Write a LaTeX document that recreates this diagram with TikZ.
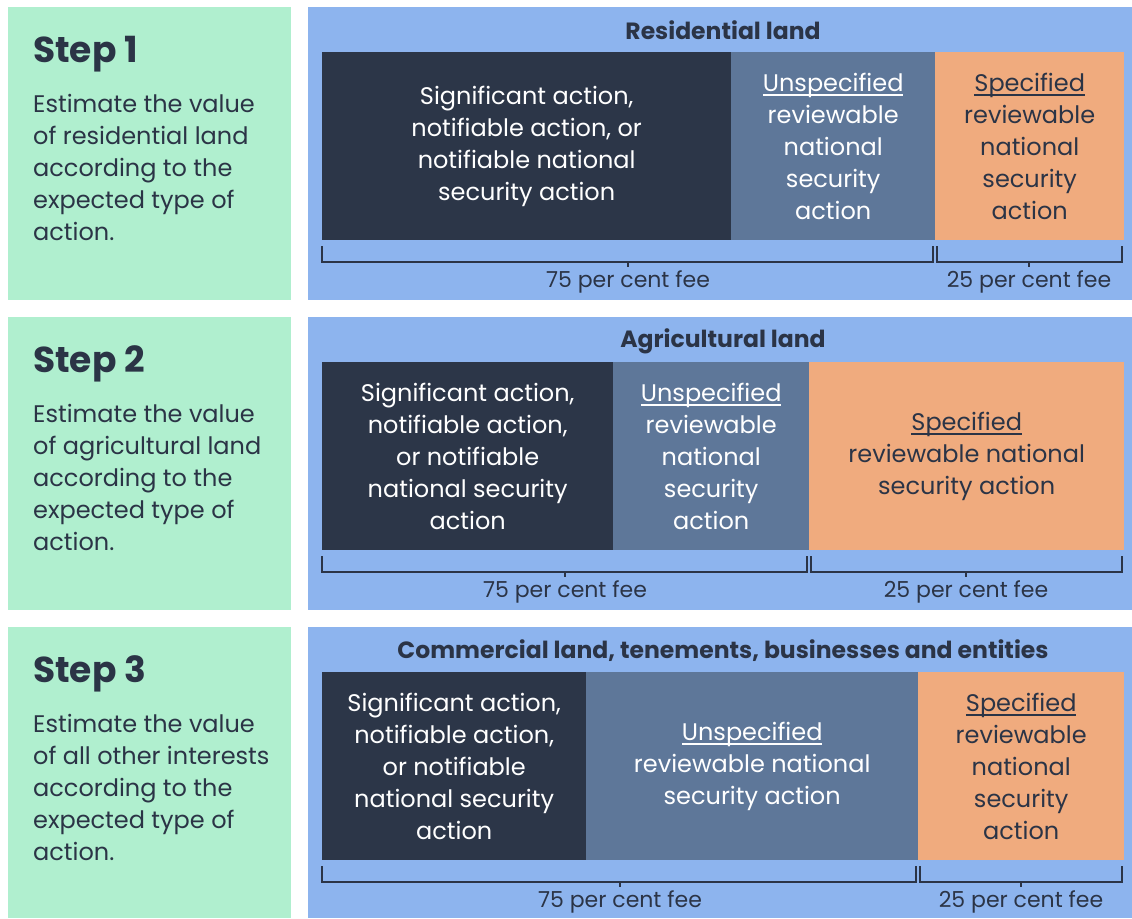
\documentclass[tikz,border=0pt]{standalone}
\usepackage{fontspec}
\setmainfont{Poppins}
\definecolor{stepgreen}{HTML}{B0EFCF}
\definecolor{panelblue}{HTML}{8DB4EE}
\definecolor{darkbar}{HTML}{2C3648}
\definecolor{slatebar}{HTML}{5E7799}
\definecolor{orangebar}{HTML}{F0AB7E}
\definecolor{ink}{HTML}{2B3446}
\tikzset{
  stepbox/.style={fill=stepgreen, draw=none, anchor=north west, inner sep=0pt},
  panel/.style={fill=panelblue, draw=none, anchor=north west, inner sep=0pt},
  bar/.style={draw=none, anchor=north west, inner sep=0pt, minimum height=188},
  darkseg/.style={bar, fill=darkbar},
  slateseg/.style={bar, fill=slatebar},
  orangeseg/.style={bar, fill=orangebar},
  bartext/.style={align=center, font=\fontsize{24}{32}\selectfont},
  whitetext/.style={bartext, text=white},
  inktext/.style={bartext, text=ink},
  steptitle/.style={anchor=base west, text=ink, font=\fontsize{36}{40}\bfseries\selectfont, inner sep=0pt},
  stepbody/.style={anchor=north west, text=ink, align=left, inner sep=0pt, font=\fontsize{24}{32}\selectfont},
  paneltitle/.style={text=ink, font=\fontsize{23.5}{26}\bfseries\selectfont},
  fee/.style={text=ink, font=\fontsize{22}{26}\selectfont},
  brk/.style={draw=ink, line width=2pt},
}
% thin underline sitting just below the baseline
\newcommand\ul[1]{{\setbox0\hbox{#1}\rlap{\rule[-4.5pt]{\wd0}{1.8pt}}\box0}}
\begin{document}
\begin{tikzpicture}[x=1pt,y=-1pt]
\useasboundingbox (0,0) rectangle (1132,918);
\fill[white] (0,0) rectangle (1132,918);

% ---------- Step 1: residential land ----------
\node[stepbox, minimum width=283, minimum height=293] (g1) at (8,7) {};
\node[steptitle] (t1) at (33,62) {Step 1};
\node[stepbody] (b1) at (33,94) {Estimate the value\\of residential land\\according to the\\expected type of\\action.};
\node[panel, minimum width=824, minimum height=293] (p1) at (308,7) {};
\node[paneltitle] (h1) at (723,30) {Residential land};
\node[darkseg, minimum width=409] (d1) at (322,52) {};
\node[slateseg, minimum width=204] (u1) at (731,52) {};
\node[orangeseg, minimum width=189] (o1) at (935,52) {};
\node[whitetext] at (d1.center) {Significant action,\\notifiable action, or\\notifiable national\\security action};
\node[whitetext] at (u1.center) {\ul{Unspecified}\\reviewable\\national\\security\\action};
\node[inktext] at (o1.center) {\ul{Specified}\\reviewable\\national\\security\\action};
\draw[brk] ([yshift=-6]d1.south west) -- ++(0,16) -| ([xshift=-2,yshift=-6]u1.south east);
\draw[brk] ([xshift=2,yshift=-6]o1.south west) -- ++(0,16) -| ([xshift=-2,yshift=-6]o1.south east);
\node[fee] (f1a) at (628,282) {75 per cent fee};
\node[fee] (f1b) at (1029,282) {25 per cent fee};
\draw[brk] (f1a.center |- 0,262) -- (f1a.north);
\draw[brk] (f1b.center |- 0,262) -- (f1b.north);

% ---------- Step 2: agricultural land ----------
\node[stepbox, minimum width=283, minimum height=293] (g2) at (8,317) {};
\node[steptitle] (t2) at (33,372) {Step 2};
\node[stepbody] (b2) at (33,404) {Estimate the value\\of agricultural land\\according to the\\expected type of\\action.};
\node[panel, minimum width=824, minimum height=293] (p2) at (308,317) {};
\node[paneltitle] (h2) at (723,341) {Agricultural land};
\node[darkseg, minimum width=291] (d2) at (322,362) {};
\node[slateseg, minimum width=196] (u2) at (613,362) {};
\node[orangeseg, minimum width=315] (o2) at (809,362) {};
\node[whitetext] at (d2.center) {Significant action,\\notifiable action,\\or notifiable\\national security\\action};
\node[whitetext] at (u2.center) {\ul{Unspecified}\\reviewable\\national\\security\\action};
\node[inktext] at (o2.center) {\ul{Specified}\\reviewable national\\security action};
\draw[brk] ([yshift=-6]d2.south west) -- ++(0,16) -| ([xshift=-2,yshift=-6]u2.south east);
\draw[brk] ([xshift=2,yshift=-6]o2.south west) -- ++(0,16) -| ([xshift=-2,yshift=-6]o2.south east);
\node[fee] (f2a) at (565,592) {75 per cent fee};
\node[fee] (f2b) at (966,592) {25 per cent fee};
\draw[brk] (f2a.center |- 0,572) -- (f2a.north);
\draw[brk] (f2b.center |- 0,572) -- (f2b.north);

% ---------- Step 3: other interests ----------
\node[stepbox, minimum width=283, minimum height=291] (g3) at (8,627) {};
\node[steptitle] (t3) at (33,682) {Step 3};
\node[stepbody] (b3) at (33,714) {Estimate the value\\of all other interests\\according to the\\expected type of\\action.};
\node[panel, minimum width=824, minimum height=291] (p3) at (308,627) {};
\node[paneltitle] (h3) at (723,651) {Commercial land, tenements, businesses and entities};
\node[darkseg, minimum width=264] (d3) at (322,672) {};
\node[slateseg, minimum width=332] (u3) at (586,672) {};
\node[orangeseg, minimum width=206] (o3) at (918,672) {};
\node[whitetext] at (d3.center) {Significant action,\\notifiable action,\\or notifiable\\national security\\action};
\node[whitetext] at (u3.center) {\ul{Unspecified}\\reviewable national\\security action};
\node[inktext] at (o3.center) {\ul{Specified}\\reviewable\\national\\security\\action};
\draw[brk] ([yshift=-6]d3.south west) -- ++(0,16) -| ([xshift=-2,yshift=-6]u3.south east);
\draw[brk] ([xshift=2,yshift=-6]o3.south west) -- ++(0,16) -| ([xshift=-2,yshift=-6]o3.south east);
\node[fee] (f3a) at (620,902) {75 per cent fee};
\node[fee] (f3b) at (1021,902) {25 per cent fee};
\draw[brk] (f3a.center |- 0,882) -- (f3a.north);
\draw[brk] (f3b.center |- 0,882) -- (f3b.north);
\end{tikzpicture}
\end{document}
